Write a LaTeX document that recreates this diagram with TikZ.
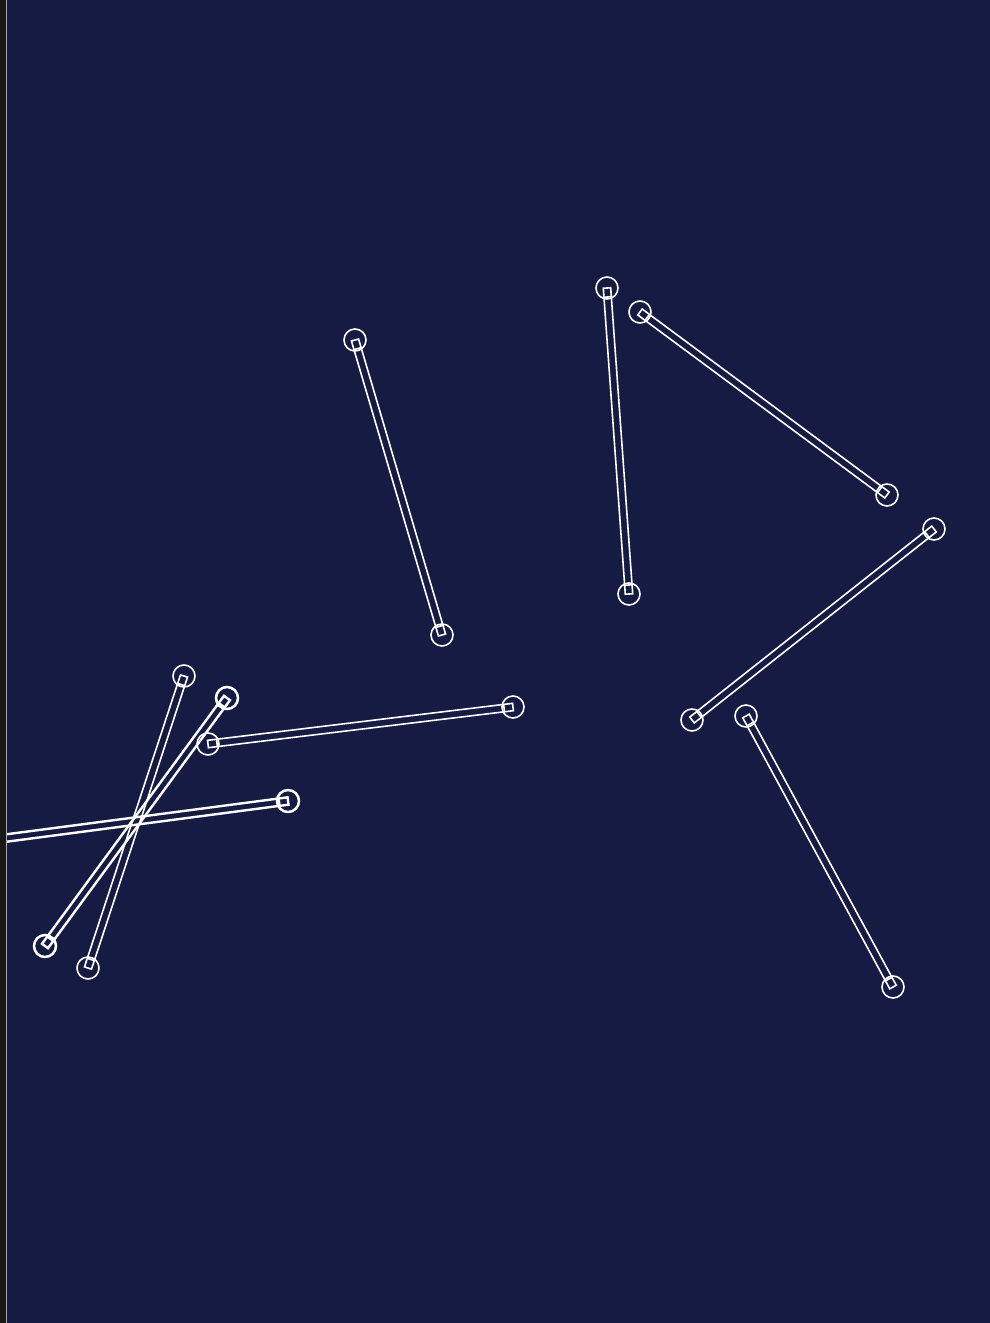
\documentclass[tikz,border=0pt]{standalone}
\usetikzlibrary{calc}
\definecolor{bgnavy}{RGB}{21,27,66}
\definecolor{edgegray}{RGB}{24,24,22}
\tikzset{
  endpt/.style={circle, draw=white, inner sep=0pt, minimum size=22pt, line width=1.6pt},
  thickpt/.style={endpt, line width=2.5pt},
  stripe/.style={draw=white, line width=1.6pt, line join=miter},
  thickstripe/.style={stripe, line width=2.4pt}
}
\newcommand\segmline[3]{%
  \coordinate (#1i) at ($(#1)!9pt!(#2)$);
  \coordinate (#2i) at ($(#2)!9pt!(#1)$);
  \draw[#3] ($(#1)!3.7pt!90:(#2)$) -- ($(#2)!3.7pt!-90:(#1)$) -- ($(#2)!3.7pt!90:(#1)$) -- ($(#1)!3.7pt!-90:(#2)$) -- cycle;
  \draw[#3] ($(#1i)!3.7pt!90:(#2)$) -- ($(#1i)!3.7pt!-90:(#2)$);
  \draw[#3] ($(#2i)!3.7pt!90:(#1)$) -- ($(#2i)!3.7pt!-90:(#1)$);
}
\begin{document}
\begin{tikzpicture}[x=1pt,y=-1pt]
\useasboundingbox (0,0) rectangle (990,1323);
\fill[bgnavy] (0,0) rectangle (990,1323);
\clip (0,0) rectangle (990,1323);
% endpoints
\node[endpt] (a1) at (355,340) {};
\node[endpt] (b1) at (442,635) {};
\node[endpt] (a2) at (607,288) {};
\node[endpt] (b2) at (629,594) {};
\node[endpt] (a3) at (640,312) {};
\node[endpt] (b3) at (887,495) {};
\node[endpt] (a4) at (934,529) {};
\node[endpt] (b4) at (692,720) {};
\node[endpt] (a5) at (746,716) {};
\node[endpt] (b5) at (893,987) {};
\node[endpt] (a6) at (184,676) {};
\node[endpt] (b6) at (88,968) {};
\node[thickpt] (a7) at (227,698) {};
\node[thickpt] (b7) at (45,946) {};
\node[endpt] (a8) at (513,707) {};
\node[endpt] (b8) at (208,744) {};
\node[thickpt] (a9) at (288,801) {};
\node[thickpt] (b9) at (-100,852) {};
% stripes
\segmline{a1}{b1}{stripe}
\segmline{a2}{b2}{stripe}
\segmline{a3}{b3}{stripe}
\segmline{a4}{b4}{stripe}
\segmline{a5}{b5}{stripe}
\segmline{a6}{b6}{stripe}
\segmline{a7}{b7}{thickstripe}
\segmline{a8}{b8}{stripe}
\segmline{a9}{b9}{thickstripe}
% left edge strip
\fill[edgegray] (0,0) rectangle (6,1323);
\draw[gray!70, line width=1pt] (6,0) -- (6,1323);
\end{tikzpicture}
\end{document}
